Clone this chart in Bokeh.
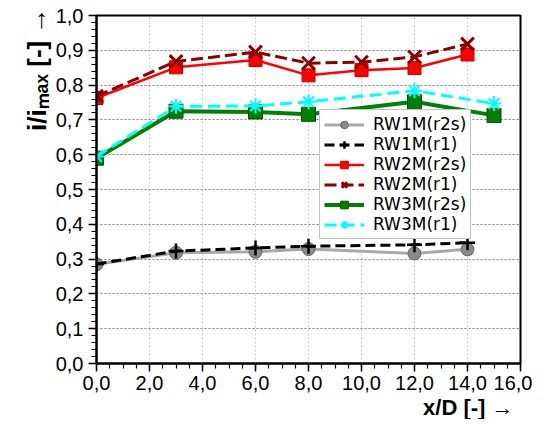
from bokeh.plotting import figure
from bokeh.models import (Range1d, Legend, LegendItem, Title,
                          CustomJSTickFormatter, FixedTicker)
from bokeh.embed import file_html
from bokeh.resources import INLINE

# ---------------- data ----------------
x_rw1 = [0, 3, 6, 8, 12, 14]
rw1_r2s = [0.285, 0.318, 0.321, 0.329, 0.316, 0.328]
rw1_r1 = [0.286, 0.323, 0.332, 0.337, 0.341, 0.347]

x_rw2 = [0, 3, 6, 8, 10, 12, 14]
rw2_r2s = [0.763, 0.851, 0.872, 0.828, 0.843, 0.849, 0.888]
rw2_r1 = [0.768, 0.868, 0.895, 0.863, 0.866, 0.881, 0.918]

x_rw3 = [0, 3, 6, 8, 12, 15]
rw3_r2s = [0.590, 0.725, 0.723, 0.716, 0.752, 0.713]
rw3_r1 = [0.595, 0.739, 0.740, 0.752, 0.784, 0.747]

labels = ["RW1M(r2s)", "RW1M(r1)", "RW2M(r2s)", "RW2M(r1)", "RW3M(r2s)", "RW3M(r1)"]

x_ticks = [0, 2, 4, 6, 8, 10, 12, 14, 16]
y_ticks = [0.0, 0.1, 0.2, 0.3, 0.4, 0.5, 0.6, 0.7, 0.8, 0.9, 1.0]
x_minor = [i * 0.5 for i in range(33)]
y_minor = [round(i * 0.02, 2) for i in range(51)]

y_label = "i/iₘₐₓ [-] →"
x_label = "x/D [-] →"

# ---------------- figure ----------------
p = figure(width=532, height=419, output_backend="svg", toolbar_location=None,
           x_range=Range1d(0, 16), y_range=Range1d(0, 1.0),
           min_border_left=96, min_border_right=12, min_border_top=15,
           min_border_bottom=54)
p.outline_line_color = "black"
p.outline_line_width = 2

fmt = CustomJSTickFormatter(code="return tick.toFixed(1).replace('.', ',');")
p.xaxis.ticker = FixedTicker(ticks=x_ticks, minor_ticks=x_minor)
p.yaxis.ticker = FixedTicker(ticks=y_ticks, minor_ticks=y_minor)
for ax in (p.xaxis[0], p.yaxis[0]):
    ax.formatter = fmt
    ax.major_label_text_font = "Liberation Sans"
    ax.major_label_text_font_size = "20px"
    ax.major_label_text_color = "black"
    ax.axis_line_color = "black"
    ax.axis_line_width = 2
    ax.major_tick_line_color = "black"
    ax.major_tick_line_width = 1.5
    ax.minor_tick_line_color = "black"
    ax.minor_tick_line_width = 1.2
    ax.major_tick_in = 0
    ax.major_tick_out = 8
    ax.minor_tick_in = 0
    ax.minor_tick_out = 5
p.yaxis.major_label_standoff = 5
p.xaxis.major_label_standoff = 4

p.xgrid.grid_line_color = "#c8c8c8"
p.xgrid.grid_line_dash = "2 2"
p.xgrid.grid_line_width = 1
p.ygrid.grid_line_color = "#808080"
p.ygrid.grid_line_dash = "2 2"
p.ygrid.grid_line_width = 1

# ---------------- series ----------------
items = []

l = p.line(x_rw1, rw1_r2s, line_color="#a8a8a8", line_width=3)
m = p.scatter(x_rw1, rw1_r2s, marker="circle", size=13, fill_color="#8a8a8a",
              line_color="#666666", line_width=1)
items.append(LegendItem(label=labels[0], renderers=[l, m]))

l = p.line(x_rw1, rw1_r1, line_color="black", line_width=3, line_dash="10 5")
m = p.scatter(x_rw1, rw1_r1, marker="cross", size=15, line_color="black",
              line_width=2.5)
items.append(LegendItem(label=labels[1], renderers=[l, m]))

l = p.line(x_rw2, rw2_r2s, line_color="#ff0000", line_width=2.5)
m = p.scatter(x_rw2, rw2_r2s, marker="square", size=13, fill_color="#ff0000",
              line_color="#c00000", line_width=1)
items.append(LegendItem(label=labels[2], renderers=[l, m]))

l = p.line(x_rw2, rw2_r1, line_color="#8b0000", line_width=3, line_dash="12 5")
m = p.scatter(x_rw2, rw2_r1, marker="x", size=18, line_color="#8b0000",
              line_width=3)
items.append(LegendItem(label=labels[3], renderers=[l, m]))

l = p.line(x_rw3, rw3_r2s, line_color="#008000", line_width=4)
m = p.scatter(x_rw3, rw3_r2s, marker="square", size=14, fill_color="#008000",
              line_color="#004d00", line_width=1)
items.append(LegendItem(label=labels[4], renderers=[l, m]))

l = p.line(x_rw3, rw3_r1, line_color="#00ffff", line_width=3, line_dash="12 6")
m = p.scatter(x_rw3, rw3_r1, marker="asterisk", size=15, line_color="#00ffff",
              line_width=2)
items.append(LegendItem(label=labels[5], renderers=[l, m]))

legend = Legend(items=items, location=(223, 124))
legend.label_text_font = "DejaVu Sans"
legend.label_text_font_size = "17px"
legend.label_text_color = "black"
legend.label_height = 19
legend.glyph_height = 19
legend.glyph_width = 40
legend.label_standoff = 9
legend.spacing = 0
legend.padding = 4
legend.margin = 0
legend.border_line_color = "#888888"
legend.border_line_width = 1.5
legend.background_fill_color = "white"
legend.background_fill_alpha = 1.0
p.add_layout(legend, "center")

# ---------------- axis labels ----------------
p.add_layout(Title(text=y_label, align="right", text_font="Liberation Sans",
                   text_font_style="bold", text_font_size="26px",
                   text_color="black", standoff=2, offset=-8), "left")
p.add_layout(Title(text=x_label, align="right", text_font="Liberation Sans",
                   text_font_style="bold", text_font_size="22px",
                   text_color="black", standoff=0, offset=7), "below")

open("out.html", "w").write(file_html(p, INLINE))
